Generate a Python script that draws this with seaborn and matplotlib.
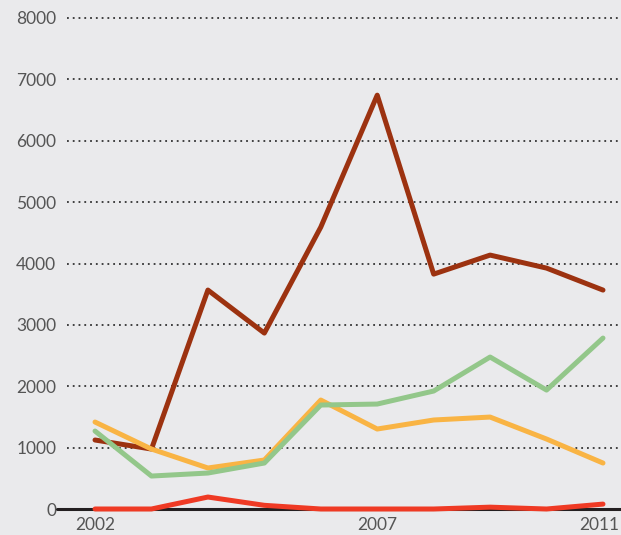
import pandas as pd
import matplotlib
matplotlib.use("Agg")
import matplotlib.pyplot as plt
import matplotlib.transforms as mtransforms
import seaborn as sns

years = [2002, 2003, 2004, 2005, 2006, 2007, 2008, 2009, 2010, 2011]
series_a = [1124, 977, 3567, 2866, 4593, 6743, 3827, 4137, 3925, 3567]
series_b = [1417, 977, 668, 798, 1775, 1303, 1450, 1498, 1140, 749]
series_c = [1270, 537, 586, 749, 1694, 1710, 1922, 2476, 1938, 2785]
series_d = [0, 0, 195, 60, 0, 0, 0, 30, 0, 80]
names = ["A", "B", "C", "D"]
colors = ["#9c3210", "#f9b444", "#93c78a", "#ef3a24"]
yticks = [0, 1000, 2000, 3000, 4000, 5000, 6000, 7000, 8000]
xticks = [2002, 2007, 2011]

df = pd.DataFrame({
    "year": years * 4,
    "value": series_a + series_b + series_c + series_d,
    "series": [n for n in names for _ in years],
})

sns.set_style("white")
plt.rcParams["font.family"] = ["Lato", "DejaVu Sans"]
bg = "#eaeaec"

fig = plt.figure(figsize=(6.21, 5.35), dpi=100, facecolor=bg)
ax = fig.add_axes([57 / 621, 26 / 535, 564 / 621, 491 / 535])
ax.set_facecolor(bg)

# dotted gridlines first, zero line on top of them
for y in yticks[1:]:
    ax.axhline(y, xmin=10 / 564, xmax=1, color="#333333", lw=1.3,
               linestyle=(0, (1, 2.2)), zorder=1)
ax.axhline(0, color="#231f20", lw=2.2, zorder=2)

sns.lineplot(data=df, x="year", y="value", hue="series", palette=colors,
             hue_order=names, linewidth=3.6, legend=False, ax=ax, zorder=3)
for line in ax.get_lines():
    line.set_clip_on(False)
    line.set_solid_capstyle("round")

ax.set_xlim(2002 - 38 / 56.4, 2011 + 18 / 56.4)
ax.set_ylim(0, 8000)
ax.set_yticks(yticks)
ax.set_xticks(xticks)
ax.set_xlabel("")
ax.set_ylabel("")
ax.tick_params(axis="both", length=0, labelsize=12.5, labelcolor="#555555")
ax.tick_params(axis="y", pad=0.5)
ax.tick_params(axis="x", pad=6)
for s in ax.spines.values():
    s.set_visible(False)

# nudge the last year label so it stays inside the figure
last = ax.get_xticklabels()[-1]
last.set_transform(last.get_transform() +
                   mtransforms.ScaledTranslation(-4 / 100, 0, fig.dpi_scale_trans))

fig.savefig("out.png", dpi=100, facecolor=bg)
